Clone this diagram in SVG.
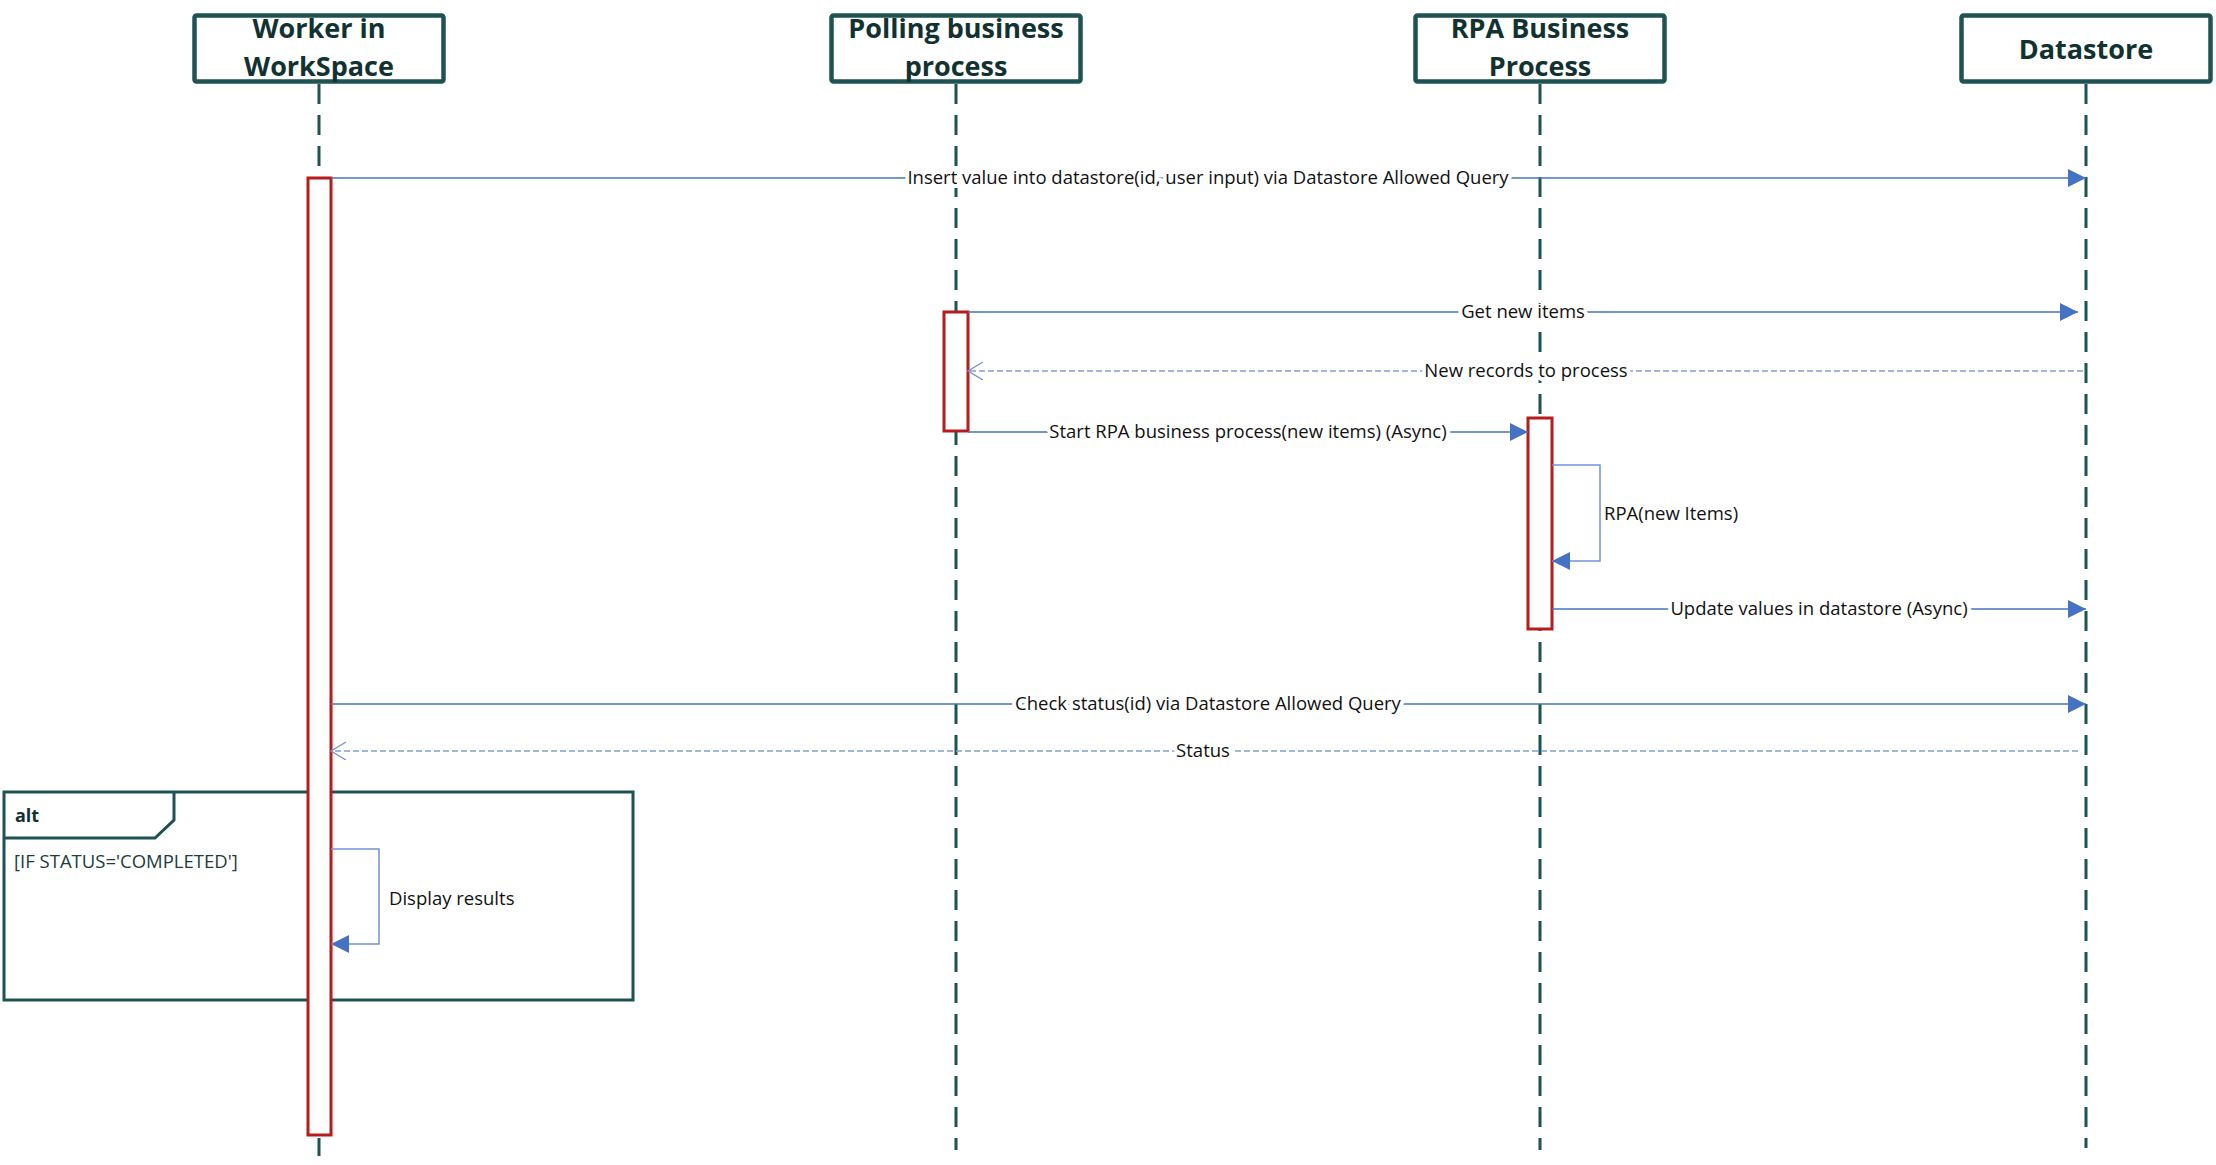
<svg xmlns="http://www.w3.org/2000/svg" width="2216" height="1165" viewBox="0 0 2216 1165">
<style>
.hdr rect{fill:#fff;stroke:#1f5252;stroke-width:4.5}
.hdr text{font-family:"Open Sans","Liberation Sans",sans-serif;font-weight:bold;font-size:27px;fill:#123232;text-anchor:middle}
.life{stroke:#1f5252;stroke-width:3;stroke-dasharray:20 11;fill:none}
.act{fill:#fff;stroke:#b71c1c;stroke-width:3}
.msg{stroke:#4472c4;stroke-width:1.5;fill:none}
.self{stroke:#6f93d4;stroke-width:1.5;fill:none}
.ret{stroke:#7f9fd8;stroke-width:1.3;stroke-dasharray:6 3;fill:none}
.lbl{font-family:"Open Sans","Liberation Sans",sans-serif;font-size:18.5px;fill:#111;text-anchor:middle;stroke:#fff;stroke-width:8;stroke-linejoin:round;paint-order:stroke}
.lbls{font-family:"Open Sans","Liberation Sans",sans-serif;font-size:18.5px;fill:#111}
.frame{fill:none;stroke:#1f5252;stroke-width:3}
</style>
<defs>
<marker id="arr" markerUnits="userSpaceOnUse" markerWidth="18" markerHeight="18" refX="18" refY="9" orient="auto"><path d="M0,0 L18,9 L0,18 z" fill="#4472c4"/></marker>
<marker id="open" markerUnits="userSpaceOnUse" markerWidth="18" markerHeight="20" refX="16" refY="9" orient="auto"><path d="M1,0 L16,9 L1,18" fill="none" stroke="#6f93d4" stroke-width="1.3"/></marker>
</defs>
<rect width="2216" height="1165" fill="#fff"/>

<g id="alt-frame">
<rect class="frame" x="4" y="792" width="629" height="208"/>
<path class="frame" d="M4,838 H155 L174,820 V792"/>
<text x="15" y="822" font-family="Open Sans, Liberation Sans, sans-serif" font-weight="bold" font-size="18px" fill="#123232">alt</text>
<text x="14" y="868" class="lbls" fill="#1e3c3c" style="fill:#1e3c3c">[IF STATUS='COMPLETED']</text>
</g>

<g id="worker" class="hdr">
<line class="life" x1="319" y1="84" x2="319" y2="1156"/>
<rect x="194.5" y="15.5" width="249" height="66" rx="2"/>
<text x="319" y="38">Worker in</text>
<text x="319" y="76">WorkSpace</text>
<rect class="act" x="308" y="178" width="23" height="957" style="fill:#fff;stroke:#b71c1c;stroke-width:3"/>
</g>

<g id="polling" class="hdr">
<line class="life" x1="956" y1="84" x2="956" y2="1150"/>
<rect x="831.5" y="15.5" width="249" height="66" rx="2"/>
<text x="956" y="38">Polling business</text>
<text x="956" y="76">process</text>
<rect class="act" x="944" y="312" width="24" height="119" style="fill:#fff;stroke:#b71c1c;stroke-width:3"/>
</g>

<g id="rpa" class="hdr">
<line class="life" x1="1540" y1="84" x2="1540" y2="1150"/>
<rect x="1415.5" y="15.5" width="249" height="66" rx="2"/>
<text x="1540" y="38">RPA Business</text>
<text x="1540" y="76">Process</text>
<rect class="act" x="1528" y="418" width="24" height="211" style="fill:#fff;stroke:#b71c1c;stroke-width:3"/>
</g>

<g id="datastore" class="hdr">
<line class="life" x1="2086" y1="84" x2="2086" y2="1148"/>
<rect x="1961.5" y="15.5" width="249" height="66" rx="2"/>
<text x="2086" y="59">Datastore</text>
</g>

<g id="connectors">
<path class="msg" d="M331,178 H2086" marker-end="url(#arr)"/>
<text class="lbl" x="1208" y="184">Insert value into datastore(id, user input) via Datastore Allowed Query</text>

<path class="msg" d="M968,312 H2078" marker-end="url(#arr)"/>
<text class="lbl" x="1523" y="318">Get new items</text>

<path class="ret" d="M2083,371 H968" marker-end="url(#open)"/>
<text class="lbl" x="1526" y="377">New records to process</text>

<path class="msg" d="M968,432 H1528" marker-end="url(#arr)"/>
<text class="lbl" x="1248" y="438">Start RPA business process(new items) (Async)</text>

<path class="self" d="M1552,465 H1600 V561 H1552" marker-end="url(#arr)"/>
<text class="lbls" x="1604" y="520">RPA(new Items)</text>

<path class="msg" d="M1552,609 H2086" marker-end="url(#arr)"/>
<text class="lbl" x="1819" y="615">Update values in datastore (Async)</text>

<path class="msg" d="M331,704 H2086" marker-end="url(#arr)"/>
<text class="lbl" x="1208" y="710">Check status(id) via Datastore Allowed Query</text>

<path class="ret" d="M2078,751 H331" marker-end="url(#open)"/>
<text class="lbl" x="1203" y="757">Status</text>

<path class="self" d="M331,849 H379 V944 H331" marker-end="url(#arr)"/>
<text class="lbls" x="389" y="905">Display results</text>
</g>
</svg>
